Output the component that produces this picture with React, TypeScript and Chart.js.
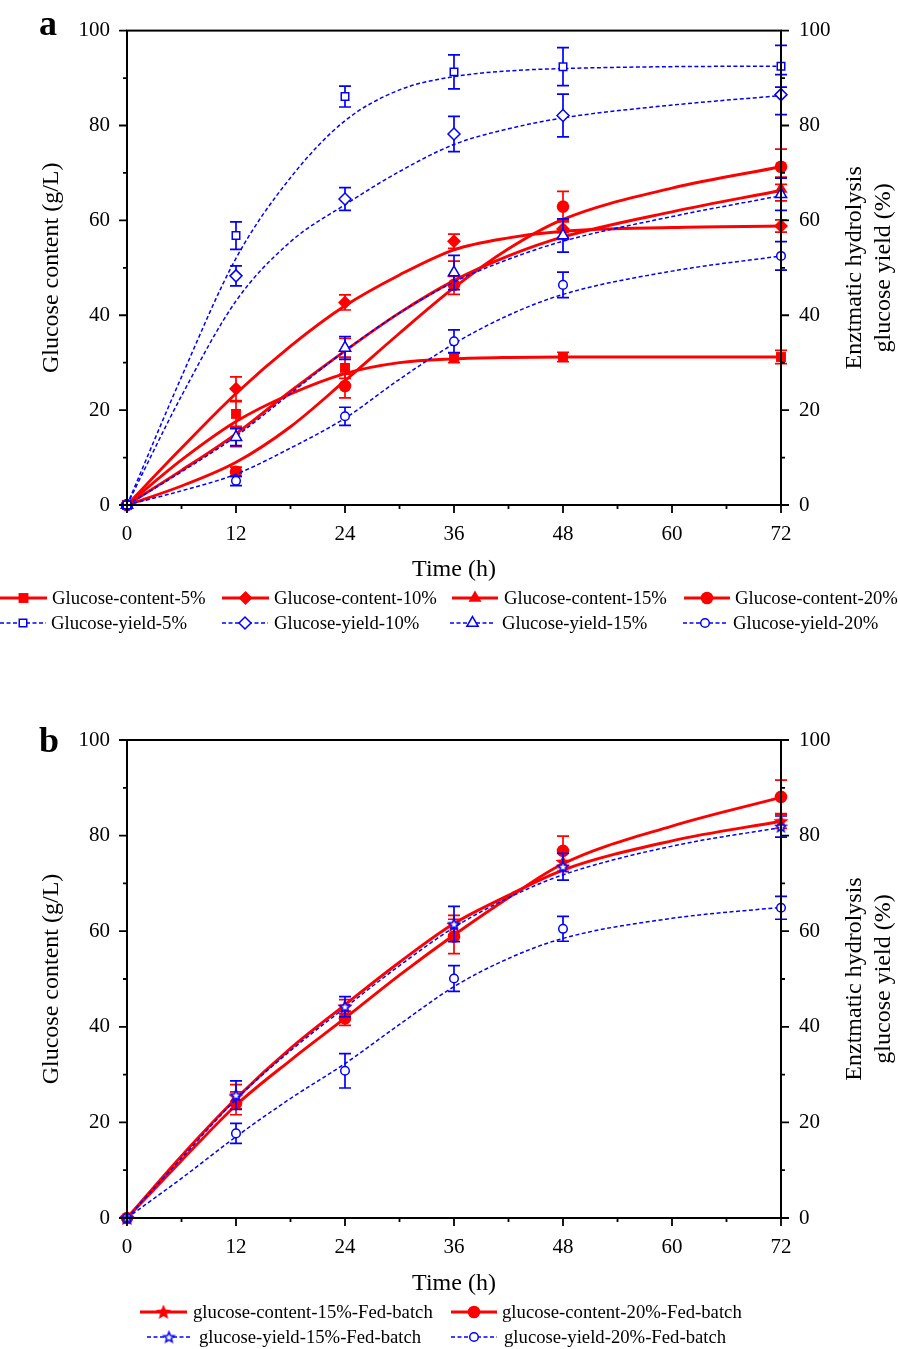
import React, { useEffect, useRef } from "react";
import { Chart, registerables } from "chart.js";
import { drawPoint } from "chart.js/helpers";

Chart.register(...registerables);

const SERIF = '"Liberation Serif", "Times New Roman", Times, serif';
const RED = "#ff0000";
const BLUE = "#0000ff";

// ---------------- data ----------------
const sampleHours = [0, 12, 24, 36, 48, 72];
const fitHours = [0, 6, 12, 18, 24, 30, 36, 42, 48, 60, 72];
const xTicks = [0, 12, 24, 36, 48, 60, 72];
const yTicks = [0, 20, 40, 60, 80, 100];

// Panel a
const content5 = [0, 19.2, 28.9, 31.0, 31.2, 31.2];
const content5Err = [0, 2.6, 2.2, 1.0, 1.0, 1.4];
const content5Fit = [0, 9.5, 17.6, 23.4, 27.7, 30.0, 30.8, 31.1, 31.2, 31.2, 31.2];

const content10 = [0, 24.5, 42.7, 55.6, 58.2, 58.8];
const content10Err = [0, 2.5, 1.6, 1.5, 1.8, 1.3];
const content10Fit = [0, 12, 23.5, 33.5, 42, 48.5, 53.8, 56.3, 57.7, 58.5, 58.8];

const content15 = [0, 14.3, 33.1, 48.8, 58.0, 66.6];
const content15Err = [0, 2.0, 2.0, 2.6, 2.0, 2.5];
const content15Fit = [0, 7.3, 15, 24, 32.5, 40.5, 47.3, 52.5, 56.5, 61.8, 66.3];

const content20 = [0, 7.0, 25.1, 46.4, 62.9, 71.3];
const content20Err = [0, 1.0, 2.5, 2.0, 3.2, 3.7];
const content20Fit = [0, 4, 9, 16.5, 26.2, 36.2, 45.8, 54, 60.2, 66.8, 71.3];

const yield5 = [0, 56.8, 86.1, 91.3, 92.4, 92.5];
const yield5Err = [0, 2.9, 2.2, 3.6, 4.0, 4.4];
const yield5Fit = [0, 27, 52, 69, 81, 87.5, 90.3, 91.5, 92, 92.4, 92.5];

const yield10 = [0, 48.3, 64.5, 78.2, 82.1, 86.5];
const yield10Err = [0, 2.1, 2.4, 3.7, 4.5, 4.2];
const yield10Fit = [0, 23, 43, 55.5, 63.3, 70.3, 76, 79.3, 81.6, 84.3, 86.3];

const yield15 = [0, 14.3, 33.1, 49.0, 56.8, 65.5];
const yield15Err = [0, 1.8, 2.4, 3.6, 3.5, 3.4];
const yield15Fit = [0, 7, 14.5, 23.5, 32.5, 40.5, 47, 51.8, 55.6, 60.8, 65.2];

const yield20 = [0, 5.1, 18.7, 34.5, 46.4, 52.5];
const yield20Err = [0, 1.0, 1.9, 2.4, 2.7, 3.0];
const yield20Fit = [0, 3, 6.5, 12, 18.3, 26.5, 34, 40, 44.4, 49.3, 52.5];

// Panel b
const content15Fed = [0, 25.4, 44.2, 61.3, 74.5, 83.0];
const content15FedErr = [0, 2.5, 1.5, 2.0, 2.0, 1.5];
const content15FedFit = [0, 13, 25, 35.5, 44.6, 53.5, 61.6, 67.5, 72.8, 78.9, 83];

const content20Fed = [0, 24.0, 41.8, 58.9, 76.8, 88.1];
const content20FedErr = [0, 2.4, 1.5, 3.6, 3.1, 3.5];
const content20FedFit = [0, 12, 23.6, 33, 41.8, 50.8, 59.2, 67, 74.1, 82, 88];

const yield15Fed = [0, 25.7, 44.2, 61.5, 73.5, 81.9];
const yield15FedErr = [0, 3.0, 2.1, 3.7, 2.8, 2.2];
const yield15FedFit = [0, 12.5, 24.8, 35, 44, 52.8, 60.8, 67, 71.8, 77.8, 81.7];

const yield20Fed = [0, 17.7, 30.8, 50.1, 60.5, 64.9];
const yield20FedErr = [0, 2.1, 3.6, 2.7, 2.6, 2.4];
const yield20FedFit = [0, 8.3, 17, 25, 32.3, 40.5, 48.4, 54.3, 58.5, 62.7, 65];

// ---------------- helpers ----------------
function makeStar(r: number, fill: string, stroke: string, lw: number) {
  const size = Math.ceil(2 * r + lw + 4);
  const c = document.createElement("canvas");
  c.width = size;
  c.height = size;
  const ctx = c.getContext("2d")!;
  ctx.translate(size / 2, size / 2 + 0.5);
  ctx.beginPath();
  for (let i = 0; i < 10; i++) {
    const rr = i % 2 === 0 ? r : r * 0.45;
    const a = -Math.PI / 2 + (i * Math.PI) / 5;
    const px = rr * Math.cos(a);
    const py = rr * Math.sin(a);
    if (i === 0) ctx.moveTo(px, py);
    else ctx.lineTo(px, py);
  }
  ctx.closePath();
  ctx.fillStyle = fill;
  ctx.fill();
  if (lw > 0) {
    ctx.strokeStyle = stroke;
    ctx.lineWidth = lw;
    ctx.stroke();
  }
  return c;
}

type Series = {
  label: string;
  values: number[];
  errors: number[];
  fit: number[];
  color: string;
  style: any;
  radius: number;
  filled: boolean;
  dashed: boolean;
};

const RED_LW = 2.9;
const BLUE_LW = 1.5;
const DASH = [4, 2.5];

function buildDatasets(series: Series[]) {
  const ds: any[] = [];
  series.forEach((s) => {
    ds.push({
      type: "line",
      data: fitHours.map((h, k) => ({ x: h, y: s.fit[k] })),
      borderColor: s.color,
      borderWidth: s.dashed ? BLUE_LW : RED_LW,
      borderDash: s.dashed ? DASH : [],
      pointRadius: 0,
      cubicInterpolationMode: "monotone",
      fill: false,
      clip: false,
      order: s.dashed ? 1 : 3,
    });
    ds.push({
      type: "line",
      data: sampleHours.map((h, k) => ({ x: h, y: s.values[k] })),
      showLine: false,
      pointStyle: s.style,
      pointRadius: s.radius,
      pointBackgroundColor: s.filled ? s.color : "#ffffff",
      pointBorderColor: s.color,
      pointBorderWidth: s.filled ? 0 : 1.5,
      clip: false,
      order: s.dashed ? 0 : 2,
      errors: s.errors,
      errColor: s.color,
    });
  });
  return ds;
}

const decorPlugin = {
  id: "decor",
  beforeDatasetDraw(chart: any, args: any) {
    const ds = chart.data.datasets[args.index];
    if (!ds.errors) return;
    const ctx = chart.ctx;
    const xs = chart.scales.x;
    const ys = chart.scales.y;
    ctx.save();
    ctx.strokeStyle = ds.errColor;
    ctx.lineWidth = 1.7;
    ds.data.forEach((p: any, i: number) => {
      const e = ds.errors[i];
      if (!e) return;
      const x = xs.getPixelForValue(p.x);
      const yT = ys.getPixelForValue(p.y + e);
      const yB = ys.getPixelForValue(p.y - e);
      ctx.beginPath();
      ctx.moveTo(x, yT);
      ctx.lineTo(x, yB);
      ctx.moveTo(x - 6, yT);
      ctx.lineTo(x + 6, yT);
      ctx.moveTo(x - 6, yB);
      ctx.lineTo(x + 6, yB);
      ctx.stroke();
    });
    ctx.restore();
  },
  afterDraw(chart: any, _args: any, opts: any) {
    const ctx = chart.ctx;
    const { left, right, top, bottom } = chart.chartArea;
    const xs = chart.scales.x;
    const ys = chart.scales.y;
    ctx.save();
    // frame
    ctx.strokeStyle = "#000";
    ctx.lineWidth = 2;
    ctx.strokeRect(left, top, right - left, bottom - top);
    // ticks
    ctx.lineWidth = 1.8;
    ctx.beginPath();
    xTicks.forEach((v, i) => {
      const x = xs.getPixelForValue(v);
      ctx.moveTo(x, bottom);
      ctx.lineTo(x, bottom + 8);
      if (i < xTicks.length - 1) {
        const xm = xs.getPixelForValue((v + xTicks[i + 1]) / 2);
        ctx.moveTo(xm, bottom);
        ctx.lineTo(xm, bottom + 4);
      }
    });
    yTicks.forEach((v, i) => {
      const y = ys.getPixelForValue(v);
      ctx.moveTo(left, y);
      ctx.lineTo(left - 8, y);
      ctx.moveTo(right, y);
      ctx.lineTo(right + 8, y);
      if (i < yTicks.length - 1) {
        const ym = ys.getPixelForValue((v + yTicks[i + 1]) / 2);
        ctx.moveTo(left, ym);
        ctx.lineTo(left - 4, ym);
        ctx.moveTo(right, ym);
        ctx.lineTo(right + 4, ym);
      }
    });
    ctx.stroke();

    // titles
    ctx.fillStyle = "#000";
    ctx.font = `24px ${SERIF}`;
    ctx.textAlign = "center";
    ctx.textBaseline = "alphabetic";
    ctx.fillText("Time (h)", (left + right) / 2, opts.xTitleBaseline);
    const cy = (top + bottom) / 2;
    ctx.textBaseline = "middle";
    ctx.save();
    ctx.translate(opts.yTitleX, cy);
    ctx.rotate(-Math.PI / 2);
    ctx.fillText("Glucose content (g/L)", 0, 0);
    ctx.restore();
    const rightLines = ["Enztmatic hydrolysis", "glucose yield (%)"];
    rightLines.forEach((t, i) => {
      ctx.save();
      ctx.translate(opts.y2TitleX[i], cy);
      ctx.rotate(-Math.PI / 2);
      ctx.fillText(t, 0, 0);
      ctx.restore();
    });
    // panel letter
    ctx.font = `bold 36px ${SERIF}`;
    ctx.textAlign = "left";
    ctx.textBaseline = "alphabetic";
    ctx.fillText(opts.letter, opts.letterX, opts.letterY);

    // legend
    const series: Series[] = opts.series;
    opts.legend.forEach((it: any) => {
      const s = series[it.index];
      ctx.save();
      ctx.strokeStyle = s.color;
      ctx.lineWidth = s.dashed ? BLUE_LW : RED_LW;
      ctx.setLineDash(s.dashed ? DASH : []);
      ctx.beginPath();
      ctx.moveTo(it.x0, it.y);
      ctx.lineTo(it.x1, it.y);
      ctx.stroke();
      ctx.setLineDash([]);
      ctx.fillStyle = s.filled ? s.color : "#ffffff";
      ctx.strokeStyle = s.color;
      ctx.lineWidth = s.filled ? 0 : 1.5;
      drawPoint(
        ctx,
        { pointStyle: s.style, radius: s.radius, borderWidth: s.filled ? 0 : 1.5, rotation: 0 } as any,
        (it.x0 + it.x1) / 2,
        it.y
      );
      ctx.restore();
      ctx.fillStyle = "#000";
      ctx.font = `18.7px ${SERIF}`;
      ctx.textAlign = "left";
      ctx.textBaseline = "middle";
      ctx.fillText(s.label, it.tx, it.y + 1);
    });
    ctx.restore();
  },
};

function makeConfig(series: Series[], padTop: number, padBottom: number, decor: any) {
  const tickFont = { family: SERIF, size: 21 };
  return {
    type: "line",
    data: { datasets: buildDatasets(series) },
    plugins: [decorPlugin],
    options: {
      responsive: false,
      animation: false,
      devicePixelRatio: 1,
      events: [],
      layout: { padding: { left: 0, right: 0, top: padTop, bottom: padBottom } },
      plugins: {
        legend: { display: false },
        tooltip: { enabled: false },
        decor: { ...decor, series },
      },
      scales: {
        x: {
          type: "linear",
          min: 0,
          max: 72,
          afterBuildTicks: (s: any) => {
            s.ticks = xTicks.map((v) => ({ value: v }));
          },
          afterFit: (s: any) => {
            s.height = 60;
          },
          grid: { display: false, drawTicks: false },
          border: { display: false },
          ticks: { font: tickFont, color: "#000", padding: 17, maxRotation: 0, autoSkip: false },
        },
        y: {
          type: "linear",
          position: "left",
          min: 0,
          max: 100,
          afterBuildTicks: (s: any) => {
            s.ticks = yTicks.map((v) => ({ value: v }));
          },
          afterFit: (s: any) => {
            s.width = 127;
          },
          grid: { display: false, drawTicks: false },
          border: { display: false },
          ticks: { font: tickFont, color: "#000", padding: 17 },
        },
        y2: {
          type: "linear",
          position: "right",
          min: 0,
          max: 100,
          afterBuildTicks: (s: any) => {
            s.ticks = yTicks.map((v) => ({ value: v }));
          },
          afterFit: (s: any) => {
            s.width = 117;
          },
          grid: { display: false, drawTicks: false },
          border: { display: false },
          ticks: { font: tickFont, color: "#000", padding: 18 },
        },
      },
    },
  } as any;
}

function PanelChart({ build, top, height }: { build: () => any; top: number; height: number }) {
  const ref = useRef<HTMLCanvasElement>(null);
  useEffect(() => {
    const chart = new Chart(ref.current!, build());
    return () => chart.destroy();
  }, []);
  return (
    <canvas
      ref={ref}
      width={898}
      height={height}
      style={{ position: "absolute", left: 0, top, width: 898, height, display: "block" }}
    />
  );
}

function buildA() {
  const series: Series[] = [
    { label: "Glucose-content-5%", values: content5, errors: content5Err, fit: content5Fit, color: RED, style: "rect", radius: 7, filled: true, dashed: false },
    { label: "Glucose-content-10%", values: content10, errors: content10Err, fit: content10Fit, color: RED, style: "rectRot", radius: 7, filled: true, dashed: false },
    { label: "Glucose-content-15%", values: content15, errors: content15Err, fit: content15Fit, color: RED, style: "triangle", radius: 7.5, filled: true, dashed: false },
    { label: "Glucose-content-20%", values: content20, errors: content20Err, fit: content20Fit, color: RED, style: "circle", radius: 6.3, filled: true, dashed: false },
    { label: "Glucose-yield-5%", values: yield5, errors: yield5Err, fit: yield5Fit, color: BLUE, style: "rect", radius: 5.3, filled: false, dashed: true },
    { label: "Glucose-yield-10%", values: yield10, errors: yield10Err, fit: yield10Fit, color: BLUE, style: "rectRot", radius: 6, filled: false, dashed: true },
    { label: "Glucose-yield-15%", values: yield15, errors: yield15Err, fit: yield15Fit, color: BLUE, style: "triangle", radius: 6.5, filled: false, dashed: true },
    { label: "Glucose-yield-20%", values: yield20, errors: yield20Err, fit: yield20Fit, color: BLUE, style: "circle", radius: 4.3, filled: false, dashed: true },
  ];
  const row1 = { y: 598, x0: [0, 222, 452, 684], x1: [47, 269, 498, 730], tx: [52, 274, 504, 735] };
  const row2 = { y: 623, x0: [0, 222, 450, 683], x1: [46, 268, 495, 727], tx: [51, 274, 502, 733] };
  const legend: any[] = [];
  [row1, row2].forEach((r, ri) =>
    r.x0.forEach((_, ci) => legend.push({ index: ri * 4 + ci, y: r.y, x0: r.x0[ci], x1: r.x1[ci], tx: r.tx[ci] }))
  );
  return makeConfig(series, 27, 85, {
    letter: "a",
    letterX: 39,
    letterY: 35,
    xTitleBaseline: 576,
    yTitleX: 52,
    y2TitleX: [855, 884],
    legend,
  });
}

function buildB() {
  const redStar = makeStar(8, RED, RED, 0);
  const blueStar = makeStar(5.5, "#ffffff", BLUE, 1.5);
  const series: Series[] = [
    { label: "glucose-content-15%-Fed-batch", values: content15Fed, errors: content15FedErr, fit: content15FedFit, color: RED, style: redStar, radius: 7, filled: true, dashed: false },
    { label: "glucose-content-20%-Fed-batch", values: content20Fed, errors: content20FedErr, fit: content20FedFit, color: RED, style: "circle", radius: 6.3, filled: true, dashed: false },
    { label: "glucose-yield-15%-Fed-batch", values: yield15Fed, errors: yield15FedErr, fit: yield15FedFit, color: BLUE, style: blueStar, radius: 5, filled: false, dashed: true },
    { label: "glucose-yield-20%-Fed-batch", values: yield20Fed, errors: yield20FedErr, fit: yield20FedFit, color: BLUE, style: "circle", radius: 4.3, filled: false, dashed: true },
  ];
  const row1 = { y: 662, x0: [140, 451], x1: [187, 497], tx: [193, 502] };
  const row2 = { y: 687, x0: [147, 451], x1: [191, 497], tx: [199, 504] };
  const legend: any[] = [];
  [row1, row2].forEach((r, ri) =>
    r.x0.forEach((_, ci) => legend.push({ index: ri * 2 + ci, y: r.y, x0: r.x0[ci], x1: r.x1[ci], tx: r.tx[ci] }))
  );
  return makeConfig(series, 90, 71, {
    letter: "b",
    letterX: 39,
    letterY: 102,
    xTitleBaseline: 640,
    yTitleX: 52,
    y2TitleX: [855, 884],
    legend,
  });
}

export default function App() {
  return (
    <div style={{ position: "absolute", left: 0, top: 0, width: 898, height: 1349, background: "#ffffff" }}>
      <PanelChart build={buildA} top={0} height={650} />
      <PanelChart build={buildB} top={650} height={699} />
    </div>
  );
}
